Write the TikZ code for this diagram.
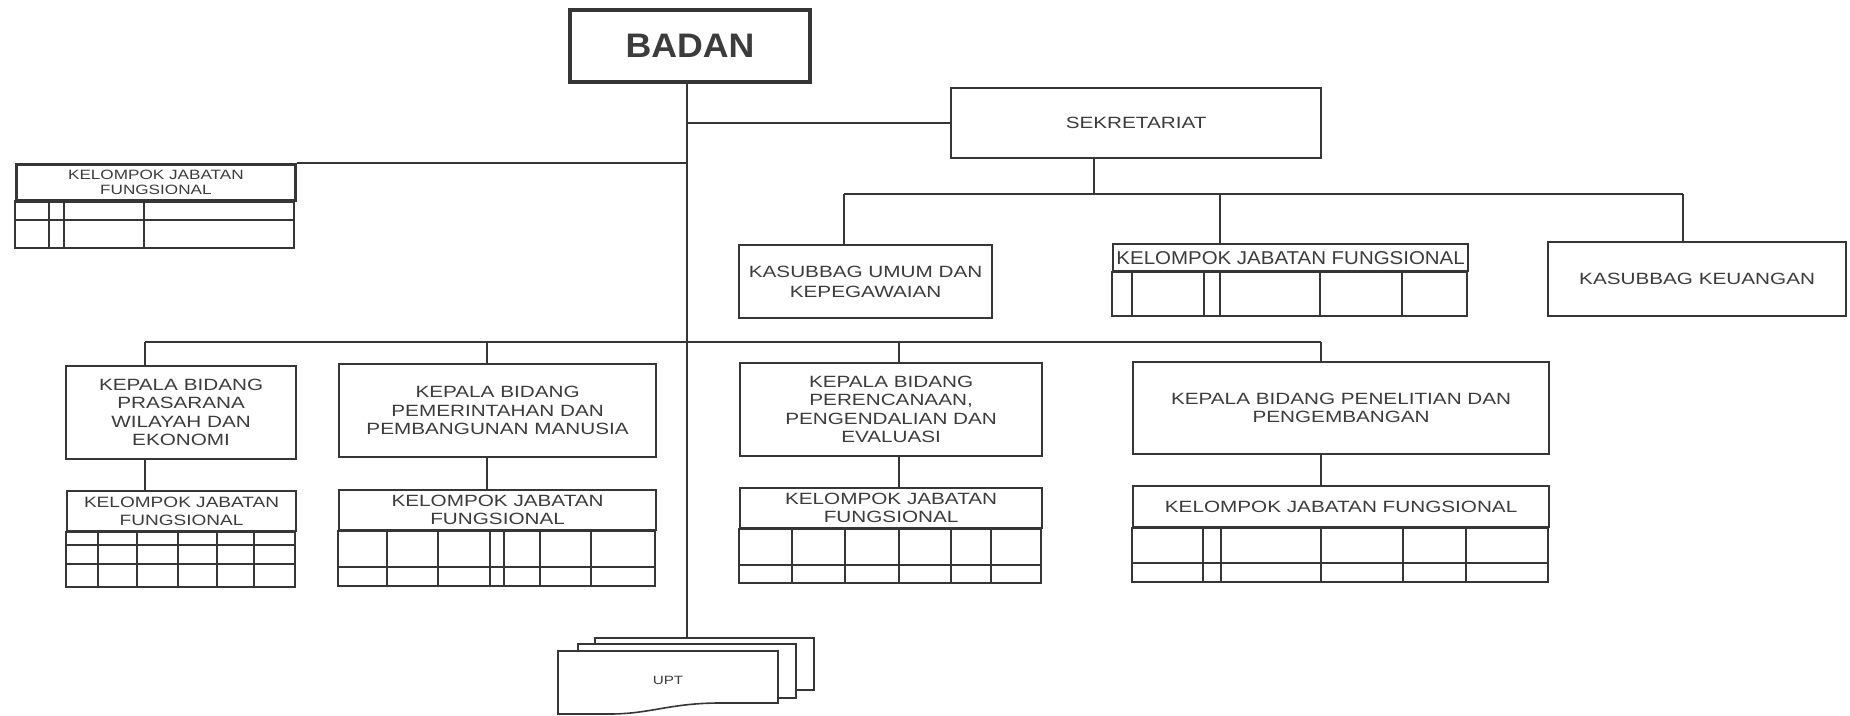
\documentclass[tikz,border=0pt]{standalone}
\usepackage{fontspec}
\newfontfamily\lab[FakeStretch=1.27]{Liberation Sans}
\newfontfamily\labn[FakeStretch=1.1]{Liberation Sans}
\newfontfamily\labb[FakeStretch=1.05]{Liberation Sans}
\definecolor{ink}{HTML}{363636}
\definecolor{txt}{HTML}{3C3C3C}
\begin{document}
\begin{tikzpicture}[x=1pt,y=-1pt,
  box/.style={draw=ink, line width=2.2pt, text=txt, inner sep=0pt, align=center, anchor=north west,
    font=\lab\fontsize{16.3}{18.5}\selectfont},
  conn/.style={draw=ink, line width=1.9pt},
  grid/.style={draw=ink, line width=1.6pt},
  frame/.style={draw=ink, line width=2.2pt}]
\fill[white] (0,0) rectangle (1850,715);
\useasboundingbox (0,0) rectangle (1850,715);

% top level
\node[box, line width=4pt, minimum width=240pt, minimum height=72pt,
  font=\labb\bfseries\fontsize{34}{38}\selectfont] (badan) at (568,8) {BADAN};
\node[box, minimum width=370pt, minimum height=70pt] (sek) at (950,87) {SEKRETARIAT};

% left KJF
\node[box, line width=2.8pt, minimum width=279pt, minimum height=36pt,
  font=\lab\fontsize{13.5}{15}\selectfont] (kl) at (15,163) {KELOMPOK JABATAN\\FUNGSIONAL};
\draw[frame, line width=2.8pt] (kl.south west) rectangle (294,248);
\draw[grid] (15,220) -- (294,220);
\foreach \x in {49,64,144} \draw[grid] (\x,199) -- (\x,248);

% sekretariat children
\node[box, minimum width=253pt, minimum height=73pt, font=\lab\fontsize{16.3}{20}\selectfont] (umum) at (738,244) {KASUBBAG UMUM DAN\\KEPEGAWAIAN};
\node[box, minimum width=355pt, minimum height=27pt, font=\labn\fontsize{18.6}{20}\selectfont] (km) at (1112,243) {KELOMPOK JABATAN FUNGSIONAL};
\draw[frame] (km.south west) rectangle (1467,316);
\foreach \x in {1132,1204,1220,1320,1402} \draw[grid] (\x,270) -- (\x,316);
\node[box, minimum width=298pt, minimum height=74pt] (keu) at (1547,241) {KASUBBAG KEUANGAN};

% bidang
\node[box, minimum width=230pt, minimum height=93pt] (b1) at (65,365) {KEPALA BIDANG\\PRASARANA\\WILAYAH DAN\\EKONOMI};
\node[box, minimum width=317pt, minimum height=93pt] (b2) at (338,363) {KEPALA BIDANG\\PEMERINTAHAN DAN\\PEMBANGUNAN MANUSIA};
\node[box, minimum width=302pt, minimum height=93pt] (b3) at (739,362) {KEPALA BIDANG\\PERENCANAAN,\\PENGENDALIAN DAN\\EVALUASI};
\node[box, minimum width=416pt, minimum height=92pt] (b4) at (1132,361) {KEPALA BIDANG PENELITIAN DAN\\PENGEMBANGAN};

% KJF under bidang
\node[box, minimum width=229pt, minimum height=40pt, font=\lab\fontsize{15}{18}\selectfont] (k1) at (66,490) {KELOMPOK JABATAN\\FUNGSIONAL};
\draw[frame] (k1.south west) rectangle (295,587);
\draw[grid] (66,545) -- (295,545) (66,564) -- (295,564);
\foreach \x in {98,137,178,217,254} \draw[grid] (\x,530) -- (\x,587);

\node[box, minimum width=317pt, minimum height=40pt, font=\lab\fontsize{16.3}{18}\selectfont] (k2) at (338,489) {KELOMPOK JABATAN\\FUNGSIONAL};
\draw[frame] (k2.south west) rectangle (655,586);
\draw[grid] (338,567) -- (655,567);
\foreach \x in {387,438,490,504,540,591} \draw[grid] (\x,529) -- (\x,586);

\node[box, minimum width=302pt, minimum height=40pt, font=\lab\fontsize{16.3}{18}\selectfont] (k3) at (739,487) {KELOMPOK JABATAN\\FUNGSIONAL};
\draw[frame] (k3.south west) rectangle (1041,583);
\draw[grid] (739,565) -- (1041,565);
\foreach \x in {792,845,899,951,991} \draw[grid] (\x,527) -- (\x,583);

\node[box, minimum width=416pt, minimum height=41pt] (k4) at (1132,485) {KELOMPOK JABATAN FUNGSIONAL};
\draw[frame] (k4.south west) rectangle (1548,582);
\draw[grid] (1132,563) -- (1548,563);
\foreach \x in {1203,1221,1321,1403,1466} \draw[grid] (\x,526) -- (\x,582);

% UPT stacked documents
\node[draw=ink, line width=1.6pt, fill=white, anchor=north west, minimum width=219pt, minimum height=52pt, inner sep=0pt] (upt3) at (594,637) {};
\node[draw=ink, line width=1.6pt, fill=white, anchor=north west, minimum width=218pt, minimum height=54pt, inner sep=0pt] (upt2) at (577,643) {};
\draw[ink, line width=1.6pt, fill=white] (558,651) -- (778,651) -- (778,703)
  -- (720,703) .. controls (670,703) and (650,714) .. (610,714) -- (558,714) -- cycle;
\node[text=txt, font=\lab\fontsize{12}{14}\selectfont] (upt) at (668,680) {UPT};

% connectors
\coordinate (main) at (687,0);
\draw[conn] (badan.south -| main) -- (main |- upt3.north);
\draw[conn] (sek.west) -- (sek.west -| main);
\draw[conn] (kl.north east) -- (kl.north east -| main);

\coordinate (sd) at (1094,194);
\coordinate (s1) at (844,194);
\coordinate (s2) at (1220,194);
\coordinate (s3) at (1683,194);
\draw[conn] (sek.south -| sd) -- (sd);
\draw[conn] (s1) -- (s3);
\draw[conn] (s1) -- (s1 |- umum.north);
\draw[conn] (s2) -- (s2 |- km.north);
\draw[conn] (s3) -- (s3 |- keu.north);

\coordinate (c1) at (145,342);
\coordinate (c2) at (487,342);
\coordinate (c3) at (899,342);
\coordinate (c4) at (1321,342);
\draw[conn] (c1) -- (c4);
\draw[conn] (c1) -- (c1 |- b1.north) (c1 |- b1.south) -- (c1 |- k1.north);
\draw[conn] (c2) -- (c2 |- b2.north) (c2 |- b2.south) -- (c2 |- k2.north);
\draw[conn] (c3) -- (c3 |- b3.north) (c3 |- b3.south) -- (c3 |- k3.north);
\draw[conn] (c4) -- (c4 |- b4.north) (c4 |- b4.south) -- (c4 |- k4.north);
\end{tikzpicture}
\end{document}
